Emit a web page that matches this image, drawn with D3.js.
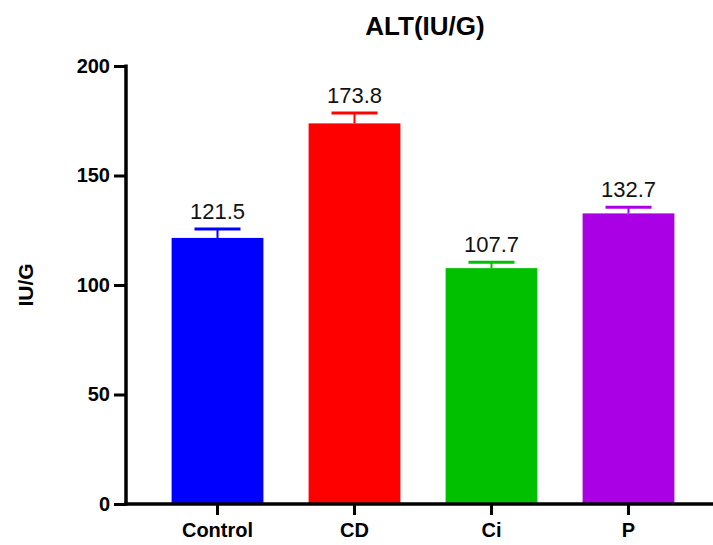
<!DOCTYPE html>
<html>
<head>
<meta charset="utf-8">
<script src="https://cdn.jsdelivr.net/npm/d3@7"></script>
<style>
  body { margin: 0; background: #fff; }
  svg { display: block; }
  text { font-family: "Liberation Sans", Arial, sans-serif; }
</style>
</head>
<body>
<svg id="chart" width="713" height="545"></svg>
<script>
const categories = ["Control", "CD", "Ci", "P"];
const means = [121.5, 173.8, 107.7, 132.7];
const errors = [4.1, 4.7, 2.7, 2.8];
const colors = ["#0000FF", "#FF0000", "#00C000", "#AA00E6"];
const yTicks = [0, 50, 100, 150, 200];

const svg = d3.select("#chart");
const x = d3.scaleBand().domain(categories).range([149, 697]).paddingInner(0.33).paddingOuter(0.165);
const y = d3.scaleLinear().domain([0, 200]).range([504, 66]);

const data = categories.map((c, i) => ({ c, m: means[i], e: errors[i], col: colors[i] }));

// bars
svg.selectAll("rect.bar").data(data).enter().append("rect")
  .attr("x", d => x(d.c)).attr("width", x.bandwidth())
  .attr("y", d => y(d.m)).attr("height", d => y(0) - y(d.m))
  .attr("fill", d => d.col);

// error bars
const g = svg.selectAll("g.err").data(data).enter().append("g");
g.append("line")
  .attr("x1", d => x(d.c) + x.bandwidth() / 2).attr("x2", d => x(d.c) + x.bandwidth() / 2)
  .attr("y1", d => y(d.m)).attr("y2", d => y(d.m + d.e))
  .attr("stroke", d => d.col).attr("stroke-width", 2);
g.append("line")
  .attr("x1", d => x(d.c) + x.bandwidth() / 2 - 23).attr("x2", d => x(d.c) + x.bandwidth() / 2 + 23)
  .attr("y1", d => y(d.m + d.e)).attr("y2", d => y(d.m + d.e))
  .attr("stroke", d => d.col).attr("stroke-width", 3);
g.append("text")
  .attr("x", d => x(d.c) + x.bandwidth() / 2)
  .attr("y", d => y(d.m + d.e) - 10)
  .attr("text-anchor", "middle").attr("font-size", 22).attr("fill", "#111")
  .text(d => d.m.toFixed(1));

// y axis
const yAxis = d3.axisLeft(y).tickValues(yTicks).tickSize(12).tickPadding(4).tickSizeOuter(0);
const ya = svg.append("g").attr("transform", "translate(126,0)").call(yAxis);
ya.select(".domain").attr("stroke", "#000").attr("stroke-width", 3.5).attr("d", "M0,64.5V505.5");
ya.selectAll(".tick line").attr("stroke", "#000").attr("stroke-width", 3);
ya.selectAll(".tick text").attr("font-size", 20).attr("font-weight", "bold").attr("fill", "#000")
  .attr("font-family", "'Liberation Sans', Arial, sans-serif");

// x axis
const xAxis = d3.axisBottom(x).tickSize(11).tickPadding(8).tickSizeOuter(0);
const xa = svg.append("g").attr("transform", "translate(0,504)").call(xAxis);
xa.select(".domain").attr("stroke", "#000").attr("stroke-width", 3.5).attr("d", "M124.5,0H713");
xa.selectAll(".tick line").attr("stroke", "#000").attr("stroke-width", 3);
xa.selectAll(".tick text").attr("font-size", 20).attr("font-weight", "bold").attr("fill", "#000")
  .attr("font-family", "'Liberation Sans', Arial, sans-serif");

// title
svg.append("text").attr("x", 425).attr("y", 35).attr("text-anchor", "middle")
  .attr("font-size", 26).attr("font-weight", "bold").text("ALT(IU/G)");

// y title
svg.append("text").attr("transform", "translate(33,285) rotate(-90)").attr("text-anchor", "middle")
  .attr("font-size", 21).attr("font-weight", "bold").text("IU/G");
</script>
</body>
</html>
